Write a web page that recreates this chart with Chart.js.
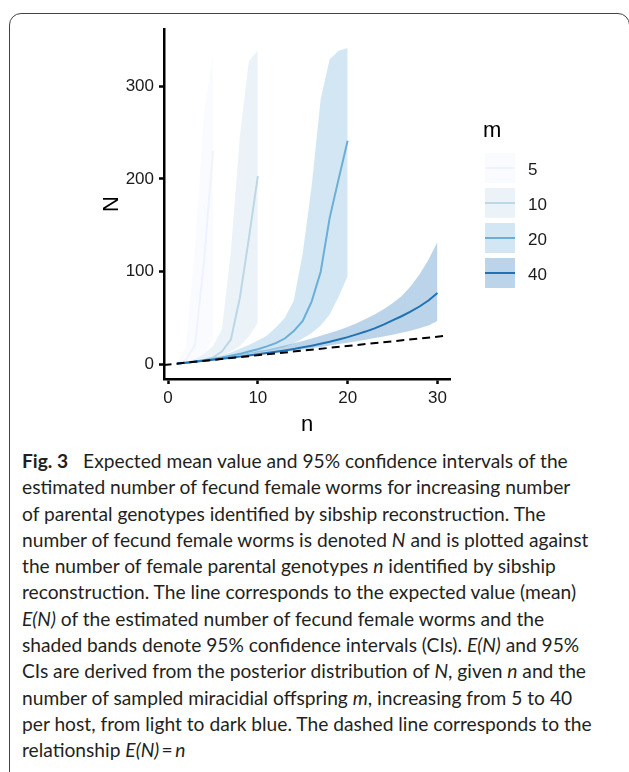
<!DOCTYPE html>
<html lang="en">
<head>
<meta charset="UTF-8">
<title>Fig. 3</title>
<style>
  html, body { margin: 0; padding: 0; background: #fff; }
  body { width: 629px; height: 772px; position: relative; overflow: hidden; }
  .frame {
    position: absolute; left: 9px; top: 13px; width: 621px; height: 800px;
    border: 1px solid #444; border-radius: 12px; box-sizing: border-box;
  }
  #fig { position: absolute; left: 0; top: 0; }
  .caption {
    position: absolute; left: 22px; top: 448px;
    font-family: Lato, "Open Sans", sans-serif; font-size: 19.2px; line-height: 26.3px;
    color: #231f20; white-space: nowrap;
  }
  .caption b { font-weight: 700; margin-right: 10px; }
</style>
</head>
<body>
<div class="frame"></div>
<canvas id="fig" width="629" height="445"></canvas>
<div class="caption">
  <b>Fig. 3</b> Expected mean value and 95% confidence intervals of the<br>
  estimated number of fecund female worms for increasing number<br>
  of parental genotypes identified by sibship reconstruction. The<br>
  number of fecund female worms is denoted <i>N</i> and is plotted against<br>
  the number of female parental genotypes <i>n</i> identified by sibship<br>
  reconstruction. The line corresponds to the expected value (mean)<br>
  <i>E(N)</i> of the estimated number of fecund female worms and the<br>
  shaded bands denote 95% confidence intervals (CIs). <i>E(N)</i> and 95%<br>
  CIs are derived from the posterior distribution of <i>N</i>, given <i>n</i> and the<br>
  number of sampled miracidial offspring <i>m</i>, increasing from 5 to 40<br>
  per host, from light to dark blue. The dashed line corresponds to the<br>
  relationship <i>E(N)</i>&thinsp;=&thinsp;<i>n</i>
</div>

<script src="https://cdn.jsdelivr.net/npm/chart.js"></script>
<script>
// axis ticks
const xTicks = [0, 10, 20, 30];
const yTicks = [0, 100, 200, 300];

// m groups (legend) and their colours, light to dark
const mLevels = ['5', '10', '20', '40'];
const mColours = ['#eff3ff', '#bdd7e7', '#6baed6', '#2171b5'];

// m = 5
const n5 = [1, 2, 3, 4, 5];
const mean5 = [1, 5, 21, 110, 230];
const lo5 = [1, 2, 3.5, 7, 30];
const hi5 = [1, 20, 126, 269, 335];

// m = 10
const n10 = [1, 2, 3, 4, 5, 6, 7, 8, 9, 10];
const mean10 = [1, 2, 3.2, 4.8, 7.5, 14, 27, 72, 136, 203];
const lo10 = [1, 2, 3.5, 5, 7, 10, 14, 20, 30, 45];
const hi10 = [1, 3, 6, 11, 20, 38, 122, 246, 327, 338];

// m = 20
const n20 = [1, 2, 3, 4, 5, 6, 7, 8, 9, 10, 11, 12, 13, 14, 15, 16, 17, 18, 19, 20];
const mean20 = [1, 2, 3.2, 4.5, 6, 7.5, 9.5, 11.5, 14, 16.5, 19.5, 23, 28, 36, 47, 68, 100, 158, 200, 241];
const lo20 = [1, 2, 3, 4, 5.5, 7, 8.5, 10, 11.5, 13, 14.5, 16.5, 19, 23, 28, 34, 42, 54, 73, 95];
const hi20 = [1, 2.5, 4, 5.5, 7.5, 10, 13, 17, 21, 26, 31, 40, 50, 69, 120, 193, 286, 329, 338, 341];

// m = 40
const n40 = [1, 2, 3, 4, 5, 6, 7, 8, 9, 10, 11, 12, 13, 14, 15,
             16, 17, 18, 19, 20, 21, 22, 23, 24, 25, 26, 27, 28, 29, 30];
const mean40 = [1, 2, 3, 4.1, 5.1, 6.2, 7.3, 8.5, 9.7, 11, 12.3, 13.7, 15.2, 16.8, 18.5,
                20.3, 22.3, 24.5, 27, 29.5, 32.5, 35.5, 39, 43, 47.5, 52, 57, 62.5, 69, 77];
const lo40 = [1, 2, 3, 4, 5, 6, 7, 8.1, 9.2, 10.3, 11.4, 12.5, 13.7, 15, 16.2,
              17.5, 19, 20.5, 22, 23.5, 25, 26.7, 28.5, 30.3, 32.2, 34.2, 36.5, 39, 42, 47];
const hi40 = [1, 2.2, 3.5, 5, 6.5, 8, 9.5, 11, 12.7, 14.5, 16.3, 18.3, 20.5, 22.8, 25.3,
              28, 31, 34, 37, 40.5, 44.5, 49, 54, 59.5, 66, 73.5, 84, 97, 113, 132];

// dashed reference line E(N) = n
const refN = [-0.5, 31.1];
const refEN = [-0.5, 31.1];

const tickFont = { family: '"Liberation Sans", Arial, sans-serif', size: 17 };
const titleFont = { family: '"Liberation Sans", Arial, sans-serif', size: 22 };

function pts(xs, ys) {
    return xs.map((x, i) => ({ x: x, y: ys[i] }));
}

function fade(hex, a) {
    const r = parseInt(hex.slice(1, 3), 16);
    const g = parseInt(hex.slice(3, 5), 16);
    const b = parseInt(hex.slice(5, 7), 16);
    return `rgba(${r}, ${g}, ${b}, ${a})`;
}

const groups = [
    { n: n5, mean: mean5, lo: lo5, hi: hi5 },
    { n: n10, mean: mean10, lo: lo10, hi: hi10 },
    { n: n20, mean: mean20, lo: lo20, hi: hi20 },
    { n: n40, mean: mean40, lo: lo40, hi: hi40 }
];

const datasets = [];
const clear = 'rgba(0, 0, 0, 0)';

// ribbons (upper filled down to lower)
groups.forEach((g, k) => {
    const hiIdx = datasets.length;
    datasets.push({
        data: pts(g.n, g.hi),
        borderColor: clear, borderWidth: 0,
        backgroundColor: fade(mColours[k], 0.3),
        fill: { target: hiIdx + 1 },
        order: 10 - k
    });
    datasets.push({
        data: pts(g.n, g.lo),
        borderColor: clear, borderWidth: 0,
        fill: false,
        order: 10 - k
    });
});

// mean lines
groups.forEach((g, k) => {
    datasets.push({
        data: pts(g.n, g.mean),
        borderColor: mColours[k], borderWidth: 2,
        fill: false,
        order: 5 - k
    });
});

datasets.push({
    data: pts(refN, refEN),
    borderColor: '#000', borderWidth: 2, borderDash: [8, 5],
    fill: false,
    order: 0
});

// legend for m, drawn to the right of the panel
const mLegend = {
    id: 'mLegend',
    afterDraw(chart) {
        const ctx = chart.ctx;
        ctx.save();
        ctx.textBaseline = 'alphabetic';
        ctx.fillStyle = '#000';
        ctx.font = '22px "Liberation Sans", Arial, sans-serif';
        ctx.fillText('m', 483, 137);
        mLevels.forEach((lab, k) => {
            const top = 153 + 35 * k;
            ctx.fillStyle = fade(mColours[k], 0.3);
            ctx.fillRect(485, top, 30, 30);
            ctx.strokeStyle = mColours[k];
            ctx.lineWidth = 2;
            ctx.beginPath();
            ctx.moveTo(485, top + 15);
            ctx.lineTo(515, top + 15);
            ctx.stroke();
            ctx.fillStyle = '#1a1a1a';
            ctx.font = '17px "Liberation Sans", Arial, sans-serif';
            ctx.fillText(lab, 528, top + 21.5);
        });
        ctx.restore();
    }
};

const ctx = document.getElementById('fig').getContext('2d');
new Chart(ctx, {
    type: 'line',
    data: { datasets: datasets },
    plugins: [mLegend],
    options: {
        responsive: false,
        animation: false,
        events: [],
        layout: { padding: { left: 90, top: 29, right: 179, bottom: 0 } },
        elements: {
            point: { radius: 0, hitRadius: 0 },
            line: { tension: 0 }
        },
        plugins: {
            legend: { display: false },
            tooltip: { enabled: false },
            filler: { drawTime: 'beforeDatasetsDraw' }
        },
        scales: {
            x: {
                type: 'linear',
                min: -0.45,
                max: 31.4,
                afterBuildTicks: (s) => { s.ticks = xTicks.map(v => ({ value: v })); },
                afterFit: (s) => { s.height = 66; },
                border: { display: true, color: '#000', width: 2.5 },
                grid: { drawOnChartArea: false, tickLength: 5, tickWidth: 2.5, tickColor: '#000' },
                ticks: { color: '#1a1a1a', font: tickFont, padding: 4, maxRotation: 0 },
                title: { display: true, text: 'n', color: '#000', font: titleFont, padding: { top: 0, bottom: 7 } }
            },
            y: {
                min: -15.6,
                max: 361.5,
                afterBuildTicks: (s) => { s.ticks = yTicks.map(v => ({ value: v })); },
                afterFit: (s) => { s.width = 74; },
                border: { display: true, color: '#000', width: 2.5 },
                grid: { drawOnChartArea: false, tickLength: 5, tickWidth: 2.5, tickColor: '#000' },
                ticks: { color: '#1a1a1a', font: tickFont, padding: 5 },
                title: { display: true, text: 'N', color: '#000', font: titleFont, padding: { top: 9, bottom: 0 } }
            }
        }
    }
});
</script>
</body>
</html>
